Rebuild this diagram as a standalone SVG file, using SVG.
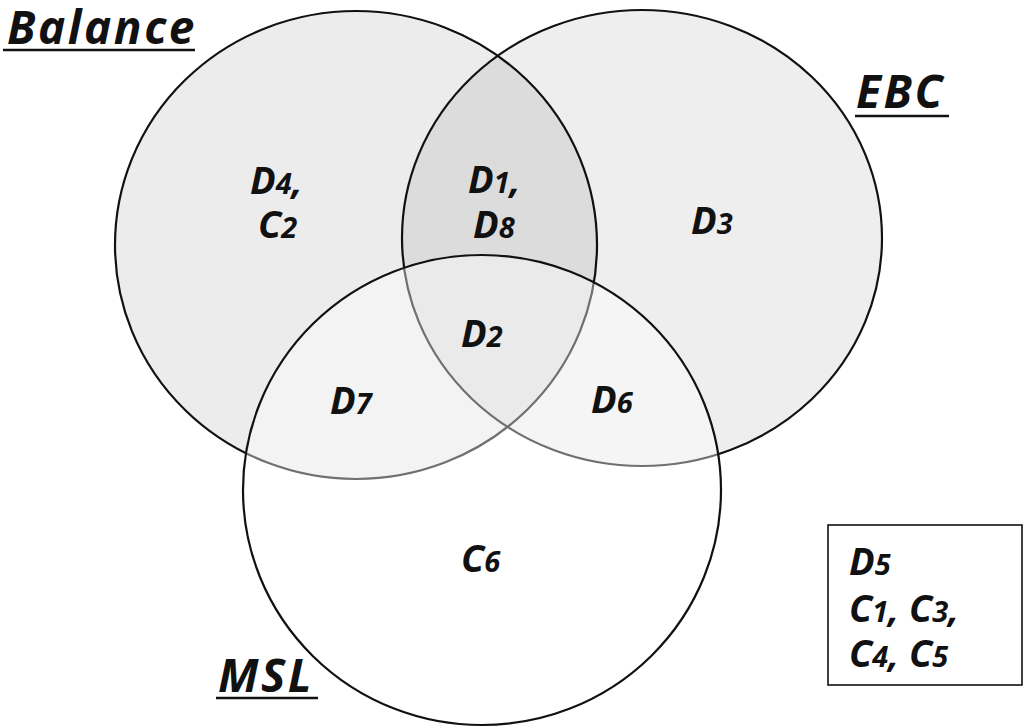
<svg xmlns="http://www.w3.org/2000/svg" width="1033" height="728" viewBox="0 0 1033 728">
<style>
.set{stroke:#111;stroke-width:2.2}
.lbl{font-family:"Open Sans","Liberation Sans",sans-serif;font-weight:bold;font-style:italic;fill:#111}
.big{font-size:46px;letter-spacing:2.5px}
.reg{font-size:38px}
.s{font-size:29px}
.ul{stroke:#111;stroke-width:2.6}
</style>
<rect width="1033" height="728" fill="#fff"/>
<g id="balance">
<ellipse class="set" cx="356" cy="245" rx="241" ry="234" fill="#000" fill-opacity="0.075"/>
</g>
<g id="ebc">
<ellipse class="set" cx="642" cy="238" rx="240" ry="228" fill="#000" fill-opacity="0.065"/>
</g>
<g id="msl">
<ellipse class="set" cx="482" cy="490" rx="239" ry="235" fill="#fff" fill-opacity="0.4"/>
</g>
<g id="titles">
<text class="lbl big" x="7" y="44">Balance</text>
<line class="ul" x1="3" y1="50" x2="195" y2="50"/>
<text class="lbl big" x="856" y="108">EBC</text>
<line class="ul" x1="855" y1="116" x2="949" y2="116"/>
<text class="lbl big" x="218" y="692">MSL</text>
<line class="ul" x1="216" y1="698" x2="318" y2="698"/>
</g>
<g id="regions">
<text class="lbl reg" x="250" y="194">D<tspan class="s">4</tspan>,</text>
<text class="lbl reg" x="258" y="238">C<tspan class="s">2</tspan></text>
<text class="lbl reg" x="468" y="193">D<tspan class="s">1</tspan>,</text>
<text class="lbl reg" x="473" y="238">D<tspan class="s">8</tspan></text>
<text class="lbl reg" x="691" y="234">D<tspan class="s">3</tspan></text>
<text class="lbl reg" x="461" y="347">D<tspan class="s">2</tspan></text>
<text class="lbl reg" x="330" y="414">D<tspan class="s">7</tspan></text>
<text class="lbl reg" x="591" y="413">D<tspan class="s">6</tspan></text>
<text class="lbl reg" x="461" y="572">C<tspan class="s">6</tspan></text>
</g>
<g id="outside">
<rect x="828" y="525" width="194" height="160" fill="none" stroke="#111" stroke-width="1.6"/>
<text class="lbl reg" x="849" y="575">D<tspan class="s">5</tspan></text>
<text class="lbl reg" x="849" y="622">C<tspan class="s">1</tspan>, C<tspan class="s">3</tspan>,</text>
<text class="lbl reg" x="849" y="667">C<tspan class="s">4</tspan>, C<tspan class="s">5</tspan></text>
</g>
<g id="connectors"></g>
</svg>
